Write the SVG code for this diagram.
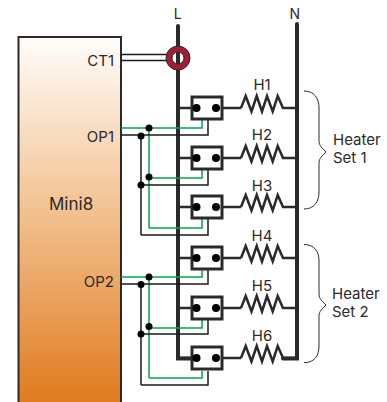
<svg xmlns="http://www.w3.org/2000/svg" width="387" height="402" viewBox="0 0 387 402">
<defs>
<linearGradient id="g" x1="0" y1="37" x2="0" y2="402" gradientUnits="userSpaceOnUse"><stop offset="0" stop-color="#fffdfb"/><stop offset="0.45" stop-color="#f3c596"/><stop offset="1" stop-color="#e07b1f"/></linearGradient>
<g id="sw"><path class="k3" d="M178 0H192M222 0H241"/><rect class="box" x="192" y="-11" width="30" height="22"/><circle cx="196.500" cy="0" r="4"/><circle cx="216" cy="0" r="4"/><path class="res" d="M241 0L245.700 -12L251.500 3.500L256.700 -12L262 3.500L267 -12L272.700 3.500L277.700 -12L283 0H297"/></g>
</defs>
<style>
text{font-family:Inter,"Liberation Sans",sans-serif;fill:#2b2a29;font-size:15px}
.k3{fill:none;stroke:#2b2a29;stroke-width:2.5}
.box{fill:#fff;stroke:#2b2a29;stroke-width:3}
.res{fill:none;stroke:#2b2a29;stroke-width:2.5}
.bk{fill:none;stroke:#1a1a1a;stroke-width:1.5}
.gr{fill:none;stroke:#00a651;stroke-width:1.500}
.br{fill:none;stroke:#2b2a29;stroke-width:1}
circle{fill:#000}
.ring{fill:none;stroke:#a51c36;stroke-width:6}
.thin{fill:none;stroke:#2b2a29;stroke-width:1}
.rail{fill:none;stroke:#2b2a29;stroke-width:4}
</style>
<g id="mini8"><rect x="18.500" y="37" width="102.500" height="375" fill="url(#g)" stroke="#2b2a29" stroke-width="2"/>
<text x="114" y="66" text-anchor="end">CT1</text><text x="114" y="142" text-anchor="end">OP1</text><text x="114" y="287" text-anchor="end">OP2</text><text x="49" y="210" style="font-size:17px">Mini8</text></g>
<g id="connectors">
<path class="rail" d="M178 26V358.500H192" stroke-linecap="round"/>
<path class="rail" d="M297 24V358.500H283" stroke-linecap="round"/>
<path class="bk" d="M121 54.500H172M121 60.500H172"/>
<path class="gr" d="M121 128H202V119M149 128V228M149 178H202V169M149 228H202V218"/>
<path class="bk" d="M121 135H208V119M141 135V235M141 185H208V169M141 235H208V218"/>
<path class="gr" d="M121 277H202V270M149 277V378M149 328H202V320M149 378H202V371"/>
<path class="bk" d="M121 284H208V270M141 284V385M141 334H208V320M141 385H208V371"/>
<circle cx="149" cy="128" r="3.500"/><circle cx="141" cy="136" r="3.500"/><circle cx="149" cy="177" r="3.500"/><circle cx="141" cy="185" r="3.500"/>
<circle cx="149" cy="277" r="3.500"/><circle cx="141" cy="284.500" r="3.500"/><circle cx="149" cy="326.500" r="3.500"/><circle cx="141" cy="334" r="3.500"/>
</g>
<g id="ct"><circle class="ring" cx="178" cy="58" r="9"/><circle class="thin" cx="178" cy="58" r="12"/><circle class="thin" cx="178" cy="58" r="6"/><path class="rail" d="M178 52V64"/></g>
<g id="h1"><use href="#sw" y="108"/><text x="262" y="90" text-anchor="middle">H1</text></g>
<g id="h2"><use href="#sw" y="158"/><text x="262" y="139.500" text-anchor="middle">H2</text></g>
<g id="h3"><use href="#sw" y="207"/><text x="262" y="190.500" text-anchor="middle">H3</text></g>
<g id="h4"><use href="#sw" y="258"/><text x="262" y="240.500" text-anchor="middle">H4</text></g>
<g id="h5"><use href="#sw" y="308"/><text x="262" y="290.500" text-anchor="middle">H5</text></g>
<g id="h6"><use href="#sw" y="358"/><text x="262" y="340.500" text-anchor="middle">H6</text></g>
<g id="labels"><text x="177.700" y="19" text-anchor="middle" style="font-size:14px">L</text><text x="294.700" y="18.500" text-anchor="middle" style="font-size:14px">N</text></g>
<g id="set1"><path class="br" d="M304 91C314 91 319 98 319 108V140C319 145 320 146 326 152C320 158 319 159 319 164V192C319 202 314 209 304 209"/><text x="333" y="145">Heater</text><text x="333" y="163">Set 1</text></g>
<g id="set2"><path class="br" d="M304 244.500C314 244.500 319 251 319 261V293C319 298 320 299 326 305C320 311 319 312 319 317V346C319 356 314 362.700 304 362.700"/><text x="332" y="299">Heater</text><text x="332" y="317">Set 2</text></g>
</svg>
